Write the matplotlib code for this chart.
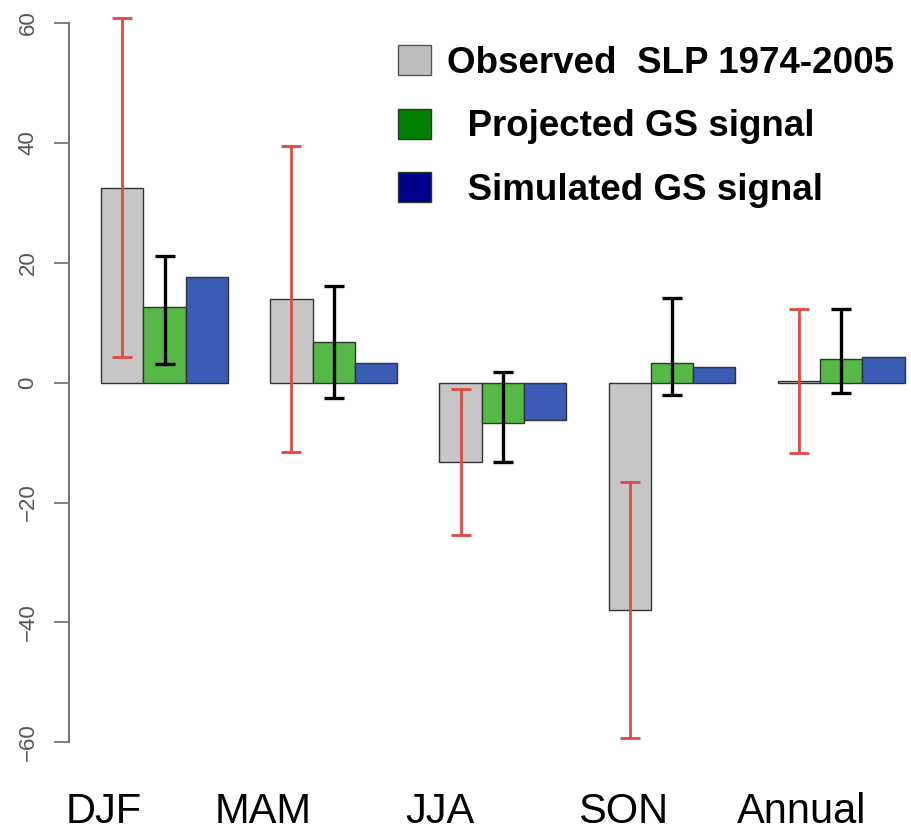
import matplotlib
matplotlib.use("Agg")
import matplotlib.pyplot as plt
from matplotlib.patches import Patch
import numpy as np

plt.rcParams['font.family'] = ['Liberation Sans', 'DejaVu Sans']

# values
seasons = ["DJF", "MAM", "JJA", "SON", "Annual"]
label_pos = [1.05, 4.83, 9.01, 13.34, 17.57]  # where the season names sit

observed = [32.4, 13.9, -13.2, -38.0, 0.3]
obs_lo = [4.3, -11.5, -25.4, -59.3, -11.7]
obs_hi = [60.8, 39.5, -1.0, -16.6, 12.3]

projected = [12.7, 6.8, -6.7, 3.3, 4.0]
proj_lo = [3.1, -2.5, -13.2, -2.1, -1.7]
proj_hi = [21.2, 16.2, 1.8, 14.1, 12.3]

simulated = [17.6, 3.3, -6.2, 2.6, 4.3]

legend_labels = ["Observed  SLP 1974-2005", "  Projected GS signal", "  Simulated GS signal"]

fig = plt.figure(figsize=(9.11, 8.33), dpi=100)
ax = fig.add_axes([69 / 911, 0.0744, 1 - 69 / 911, 1 - 0.0744])

# R style barplot: 3 bars per group then a gap of one bar
grp = np.arange(len(seasons)) * 4
x_obs = grp + 1.5
x_proj = grp + 2.5
x_sim = grp + 3.5

ax.bar(x_obs, observed, width=1, color="#c6c6c6", edgecolor="#333333", linewidth=1)
ax.bar(x_proj, projected, width=1, color="#55b847", edgecolor="#333333", linewidth=1)
ax.bar(x_sim, simulated, width=1, color="#3a5cb4", edgecolor="#333333", linewidth=1)

obs_lo = np.array(obs_lo)
obs_hi = np.array(obs_hi)
proj_lo = np.array(proj_lo)
proj_hi = np.array(proj_hi)
mid_o = (obs_lo + obs_hi) / 2
mid_p = (proj_lo + proj_hi) / 2
ax.errorbar(x_obs, mid_o, yerr=(obs_hi - obs_lo) / 2, fmt="none", ecolor="#e04a42",
            elinewidth=2.0, capsize=7, capthick=2.0)
ax.errorbar(x_proj, mid_p, yerr=(proj_hi - proj_lo) / 2, fmt="none", ecolor="black",
            elinewidth=2.4, capsize=7.5, capthick=2.4)

ax.set_xlim(0.24, 20.15)
ax.set_ylim(-64.8, 63.84)

for s in ["top", "right", "bottom"]:
    ax.spines[s].set_visible(False)
ax.spines["left"].set_bounds(-60, 60)
ax.spines["left"].set_color("#777777")
ax.spines["left"].set_linewidth(1.5)

ax.set_yticks([-60, -40, -20, 0, 20, 40, 60])
ax.tick_params(axis="y", length=11, width=1.3, color="#777777", labelcolor="#555555",
               labelsize=16, pad=11)
for lab in ax.get_yticklabels():
    lab.set_rotation(90)
    lab.set_va("center")

ax.set_xticks(label_pos, seasons)
ax.tick_params(axis="x", length=0, labelsize=30, pad=15)

handles = [Patch(facecolor="#bebebe", edgecolor="#555555"),
           Patch(facecolor="#007f00", edgecolor="#333333"),
           Patch(facecolor="#00008b", edgecolor="#333333")]
ax.legend(handles, legend_labels, loc="upper left", bbox_to_anchor=(0.3907, 0.9415),
          frameon=False, prop={"weight": "bold", "size": 26.5},
          handlelength=0.9, handleheight=0.87, handletextpad=0.43,
          labelspacing=0.76, borderpad=0, borderaxespad=0)

fig.savefig("out.png", dpi=100)
